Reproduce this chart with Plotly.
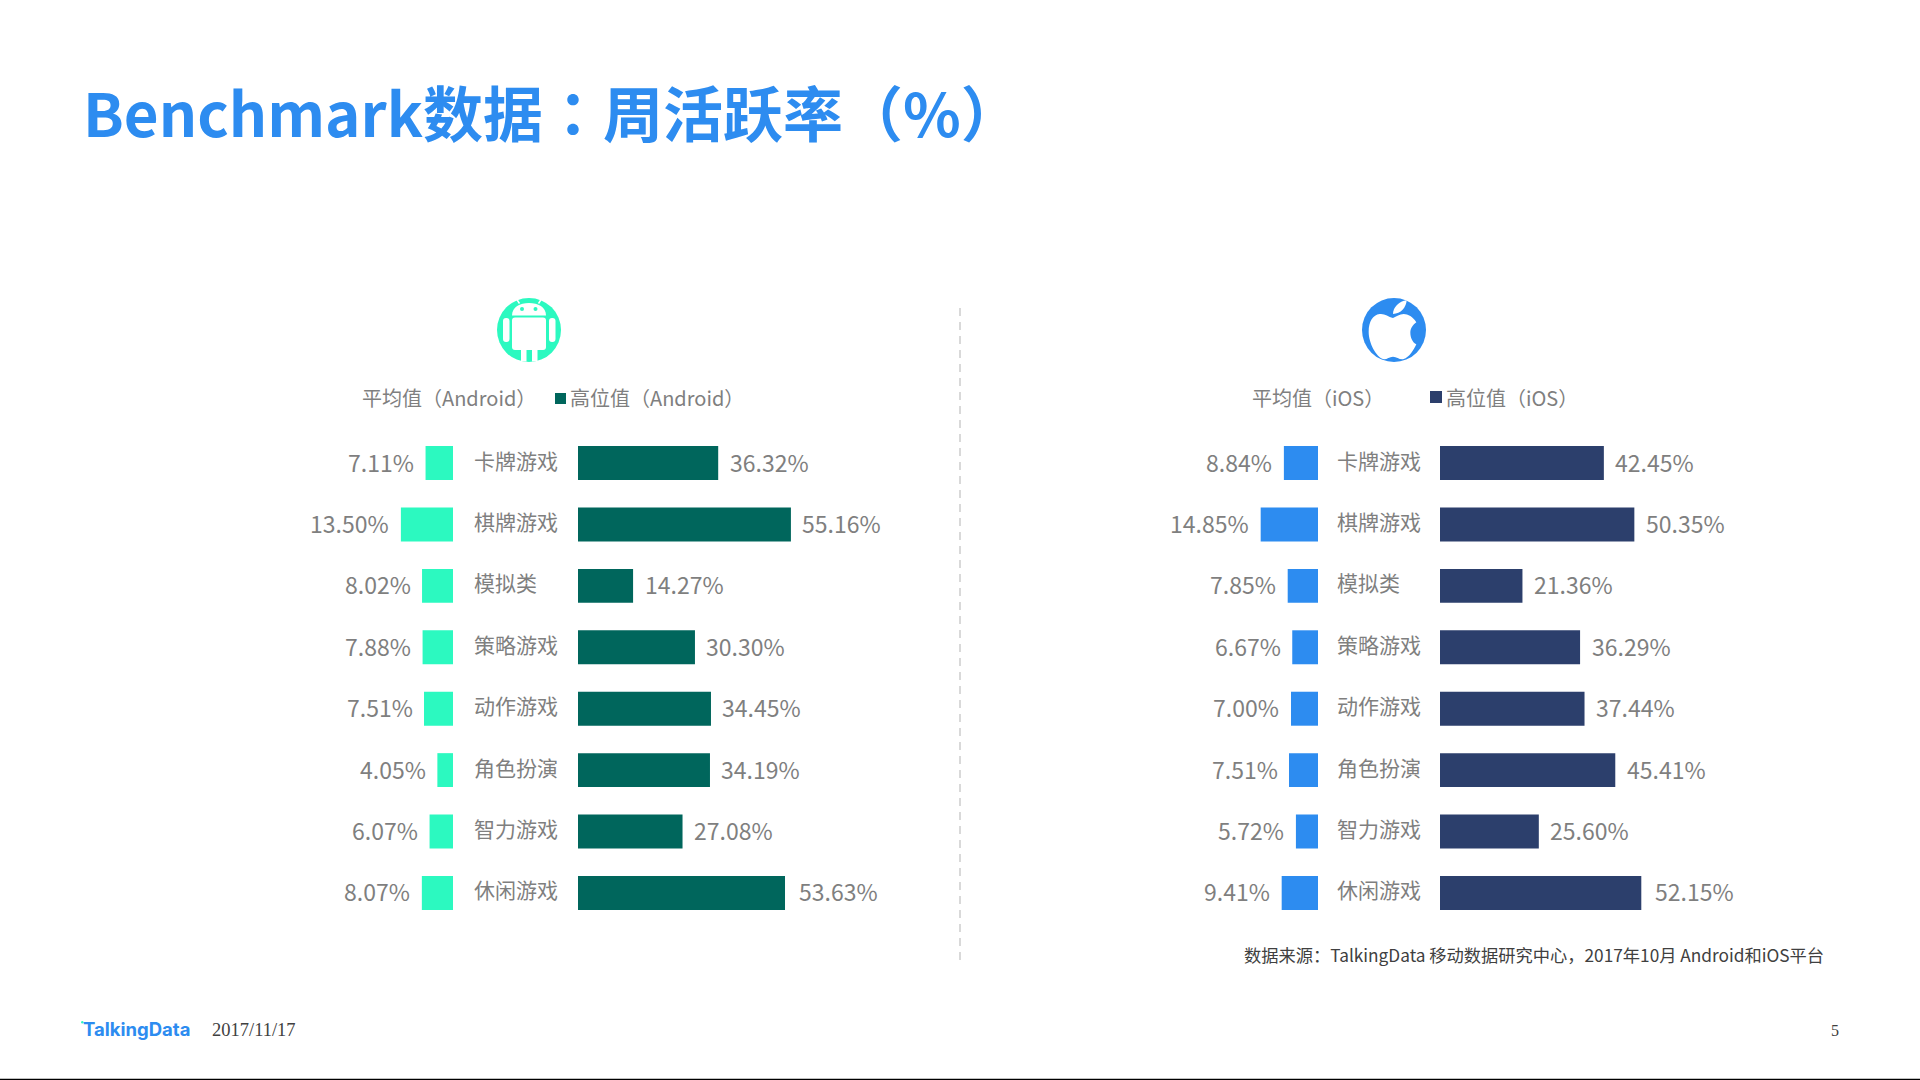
import re
import plotly.graph_objects as go

# ---------- data ----------
categories = ["卡牌游戏", "棋牌游戏", "模拟类", "策略游戏", "动作游戏", "角色扮演", "智力游戏", "休闲游戏"]
android_avg = [7.11, 13.50, 8.02, 7.88, 7.51, 4.05, 6.07, 8.07]
android_high = [36.32, 55.16, 14.27, 30.30, 34.45, 34.19, 27.08, 53.63]
ios_avg = [8.84, 14.85, 7.85, 6.67, 7.00, 7.51, 5.72, 9.41]
ios_high = [42.45, 50.35, 21.36, 36.29, 37.44, 45.41, 25.60, 52.15]

title_text = "Benchmark数据：周活跃率（%）"
source_text = "数据来源：TalkingData 移动数据研究中心，2017年10月 Android和iOS平台"

W, H = 1920, 1080
CJK = "Noto Sans CJK SC"
BLUE = "#2D8CF0"
TEAL = "#2CF9C0"
DARK_GREEN = "#00665C"
NAVY = "#2C3F6C"
GREY = "#7F7F7F"
PX_PER_PCT = 3.86


def X(px):
    return px / W


def Y(py):
    return 1 - py / H


def svg(s, ox=0, oy=0, k=1.0):
    """Turn an absolute path given in page pixels into paper coordinates."""
    tokens = re.findall(r"[MLCQZ]|-?\d+\.?\d*", s)
    out, is_x = [], True
    for t in tokens:
        if t in "MLCQZ":
            out.append(t)
            is_x = True
        elif is_x:
            out.append(f"{X(ox + float(t) * k):.6f}")
            is_x = False
        else:
            out.append(f"{Y(oy + float(t) * k):.6f}")
            is_x = True
    return " ".join(out)


def rrect(x0, y0, x1, y1, r):
    return (f"M{x0 + r} {y0} L{x1 - r} {y0} Q{x1} {y0} {x1} {y0 + r} L{x1} {y1 - r} "
            f"Q{x1} {y1} {x1 - r} {y1} L{x0 + r} {y1} Q{x0} {y1} {x0} {y1 - r} "
            f"L{x0} {y0 + r} Q{x0} {y0} {x0 + r} {y0} Z")


def fill_path(s, color, **kw):
    return dict(type="path", xref="paper", yref="paper", path=svg(s, **kw),
                fillcolor=color, line=dict(width=0))


def circle(cx, cy, r, color):
    return dict(type="circle", xref="paper", yref="paper", x0=X(cx - r), x1=X(cx + r),
                y0=Y(cy + r), y1=Y(cy - r), fillcolor=color, line=dict(width=0))


def rect(x0, y0, x1, y1, color):
    return dict(type="rect", xref="paper", yref="paper", x0=X(x0), x1=X(x1),
                y0=Y(y1), y1=Y(y0), fillcolor=color, line=dict(width=0))


def seg(x0, y0, x1, y1, color, width, dash="solid"):
    return dict(type="line", xref="paper", yref="paper", x0=X(x0), x1=X(x1),
                y0=Y(y0), y1=Y(y1), line=dict(color=color, width=width, dash=dash))


def page_text(x, y, text, size, color=GREY, anchor="left", family=CJK, bold=False):
    return dict(xref="paper", yref="paper", x=X(x), y=Y(y), text=f"<b>{text}</b>" if bold else text,
                xanchor=anchor, yanchor="middle", showarrow=False,
                font=dict(size=size, color=color, family=family))


# ---------- panels: (axis id, baseline px, direction, values, colour) ----------
panels = [
    ("x", 453, -1, android_avg, TEAL),
    ("x2", 578, 1, android_high, DARK_GREEN),
    ("x3", 1318, -1, ios_avg, BLUE),
    ("x4", 1440, 1, ios_high, NAVY),
]
SPAN_PX = 330
TOP, BOTTOM = 432.3, 923.7

fig = go.Figure()
annotations = []
layout_axes = {}
for axis_id, base, direction, values, color in panels:
    fig.add_trace(go.Bar(x=values, y=categories, orientation="h", xaxis=axis_id, yaxis="y",
                         marker=dict(color=color, line=dict(width=0)), showlegend=False,
                         hovertemplate="%{y}: %{x:.2f}%<extra></extra>"))
    extent = SPAN_PX / PX_PER_PCT
    if direction > 0:
        domain, rng = [X(base), X(base + SPAN_PX)], [0, extent]
    else:
        domain, rng = [X(base - SPAN_PX), X(base)], [extent, 0]
    layout_axes["xaxis" + axis_id[1:]] = dict(domain=domain, range=rng, visible=False,
                                              anchor="y", fixedrange=True)
    for i, (cat, v) in enumerate(zip(categories, values)):
        gap = 12 if (direction > 0 and i == len(categories) - 1) else 9.5
        annotations.append(dict(xref=axis_id, yref="y", x=v, y=cat, text=f"{v:.2f}%",
                                showarrow=False, xshift=gap * direction, yshift=1.5,
                                xanchor="left" if direction > 0 else "right", yanchor="middle",
                                font=dict(size=23, color=GREY, family=CJK)))

# category labels
for left in (471.5, 1334.5):
    for cat in categories:
        annotations.append(dict(xref="paper", yref="y", x=X(left), y=cat, text=cat,
                                showarrow=False, xanchor="left", yanchor="middle", yshift=3.5,
                                font=dict(size=21, color=GREY, family=CJK)))

# page texts
annotations += [
    page_text(81, 111, title_text, 60, color=BLUE, bold=True, family="Noto Sans CJK TC"),
    page_text(360, 398, "平均值（Android）", 20),
    page_text(568, 398, "高位值（Android）", 20),
    page_text(1250, 397, "平均值（iOS）", 20),
    page_text(1444, 397, "高位值（iOS）", 20),
    page_text(1241.5, 954, source_text, 17.25, color="#404040"),
    page_text(81, 1029, "TalkingData", 18.5, color=BLUE, family="Inter", bold=True),
    page_text(209.5, 1030, "2017/11/17", 18.5, color="#404040", family="Liberation Serif"),
    page_text(1835, 1030, "5", 16, color="#404040", anchor="center", family="Liberation Serif"),
]

# ---------- decoration ----------
WHITE = "#FFFFFF"
shapes = [
    seg(960, 308, 960, 960, "#D9D9D9", 2, "8px,6px"),
    rect(0, 1078.8, 1920, 1080, "#000000"),
    rect(555, 393, 566, 404, DARK_GREEN),
    rect(1430, 391, 1442, 403, NAVY),
    circle(82.3, 1022.3, 1.2, TEAL),
    # Android icon
    circle(529, 330, 32, TEAL),
    fill_path("M512 315.5 C512 307 520 303 529 303 C538 303 546 307 546 315.5 Z", WHITE),
    seg(519.5, 303.5, 516.5, 299, WHITE, 1.5),
    seg(538.5, 303.5, 541.5, 299, WHITE, 1.5),
    circle(522, 309, 2, TEAL),
    circle(535.5, 309, 2, TEAL),
    fill_path(rrect(512, 317.5, 546, 350, 3), WHITE),
    fill_path(rrect(503, 318, 509.5, 342, 3), WHITE),
    fill_path(rrect(549, 318, 555.5, 342, 3), WHITE),
    fill_path("M521 349 L526.5 349 L526.5 361.5 L521 361 Z", WHITE),
    fill_path("M532 349 L537.5 349 L537.5 361 L532 361.5 Z", WHITE),
    # Apple icon
    circle(1394, 330, 32, BLUE),
    fill_path("M120 84 C105 80 95 70 80 72 C60 74 47 95 47 125 C47 160 70 200 90 207 "
              "C100 210 108 200 120 200 C132 200 140 210 152 207 C168 203 182 180 190 163 "
              "C178 157 172 142 172 128 C172 115 180 104 190 97 C180 80 165 72 152 72 "
              "C140 72 130 80 120 84 Z", WHITE, ox=1353, oy=290, k=1 / 3),
    fill_path("M120 72 C120 52 138 34 161 31 C160 52 143 72 120 72 Z", WHITE, ox=1353, oy=290, k=1 / 3),
]

fig.update_layout(
    width=W, height=H, margin=dict(l=0, r=0, t=0, b=0),
    paper_bgcolor="white", plot_bgcolor="white", showlegend=False, bargap=0.447,
    yaxis=dict(domain=[Y(BOTTOM), Y(TOP)], type="category", categoryorder="array",
               categoryarray=categories, range=[7.5, -0.5], visible=False, fixedrange=True),
    annotations=annotations, shapes=shapes, **layout_axes,
)

fig.write_html("out.html", config=dict(displayModeBar=False),
               post_script="document.body.style.margin='0';document.body.style.overflow='hidden';")
